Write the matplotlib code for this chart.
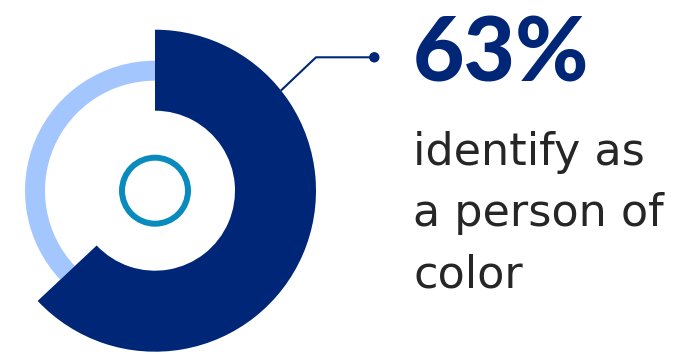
import matplotlib.pyplot as plt
from matplotlib.patches import Wedge, Circle

# share of respondents, drawn as the dark arc of the ring
share = 63
headline = f"{share}%"
caption_lines = ["identify as", "a person of", "color"]

navy = "#002677"
light_blue = "#a4c6ff"
teal = "#0a8bbd"
text_grey = "#262626"

W, H = 684, 354
fig = plt.figure(figsize=(W / 100, H / 100), dpi=100)
ax = fig.add_axes([0, 0, 1, 1])
ax.set_xlim(0, W)
ax.set_ylim(0, H)
ax.axis("off")

cx, cy = 155, H - 190.7
sweep = share / 100 * 360
start = 90
end = 90 - sweep

# dark arc runs clockwise from 12 o'clock
ax.add_patch(Wedge((cx, cy), 161, end, start, width=81, facecolor=navy, edgecolor="none"))
# the remainder as a thinner light ring
ax.add_patch(Wedge((cx, cy), 130, start, end + 360, width=20, facecolor=light_blue,
                   edgecolor="none", zorder=0))
# small outlined circle in the middle
ax.add_patch(Circle((cx, cy), 33, fill=False, edgecolor=teal, linewidth=4.3))

# leader line from the arc to the headline
px, py = 281, H - 90.5
kx, ky = 316, H - 57.3
dx, dy = 374.3, H - 57.3
ax.plot([px, kx, dx], [py, ky, dy], color=navy, linewidth=1.5, solid_capstyle="butt")
ax.add_patch(Circle((dx, dy), 5.2, facecolor=navy, edgecolor="none"))

ax.text(413, H - 82, headline, color=navy, fontsize=64, fontweight="black",
        family="Lato", ha="left", va="baseline")

for i, line in enumerate(caption_lines):
    ax.text(413, H - (165 + i * 61), line, color=text_grey, fontsize=32,
            family="DejaVu Sans", ha="left", va="baseline")

fig.savefig("out.png", dpi=100)
